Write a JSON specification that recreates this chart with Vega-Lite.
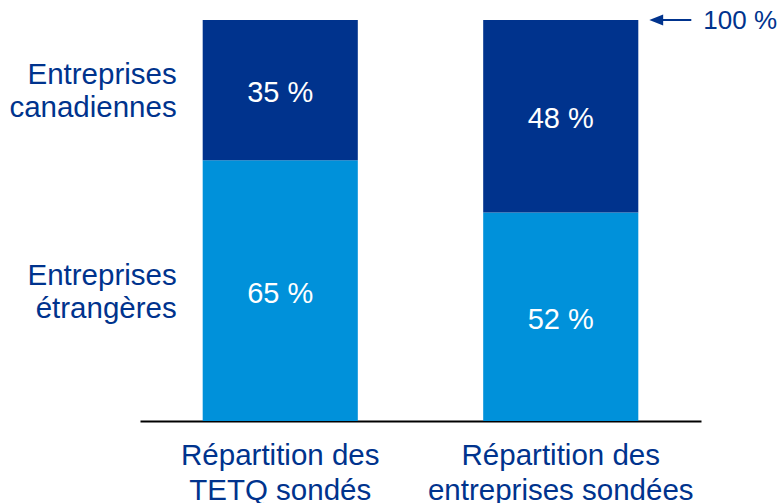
{
  "$schema": "https://vega.github.io/schema/vega-lite/v6.json",
  "autosize": "none",
  "width": 561,
  "height": 401,
  "padding": {"left": 140, "top": 20, "right": 77, "bottom": 82},
  "background": "white",
  "config": {
    "view": {"stroke": null},
    "font": "Liberation Sans"
  },
  "data": {
    "values": [
      {"cat": "Répartition des|TETQ sondés", "group": "Entreprises étrangères", "value": 65},
      {"cat": "Répartition des|TETQ sondés", "group": "Entreprises canadiennes", "value": 35},
      {"cat": "Répartition des|entreprises sondées", "group": "Entreprises étrangères", "value": 52},
      {"cat": "Répartition des|entreprises sondées", "group": "Entreprises canadiennes", "value": 48}
    ]
  },
  "transform": [
    {"stack": "value", "groupby": ["cat"], "as": ["v0", "v1"], "sort": [{"field": "group", "order": "descending"}]},
    {"calculate": "(datum.v0 + datum.v1) / 2", "as": "vmid"},
    {"calculate": "datum.value + ' %'", "as": "lbl"}
  ],
  "encoding": {
    "x": {
      "field": "cat",
      "type": "nominal",
      "sort": null,
      "scale": {"paddingInner": 0.447, "paddingOuter": 0.2235},
      "axis": {
        "title": null,
        "labelAngle": 0,
        "labelExpr": "split(datum.label, '|')",
        "labelFontSize": 29.5,
        "labelLineHeight": 35,
        "labelLimit": 0,
        "labelColor": "#00338D",
        "labelPadding": 20,
        "labelFont": "Liberation Sans",
        "ticks": false,
        "domainColor": "#000000",
        "domainWidth": 2
      }
    }
  },
  "layer": [
    {
      "mark": {"type": "bar"},
      "encoding": {
        "y": {"field": "v0", "type": "quantitative", "scale": {"domain": [0, 100]}, "axis": null},
        "y2": {"field": "v1"},
        "color": {
          "field": "group",
          "type": "nominal",
          "scale": {"domain": ["Entreprises canadiennes", "Entreprises étrangères"], "range": ["#00338D", "#0091DA"]},
          "legend": null
        }
      }
    },
    {
      "mark": {"type": "text", "color": "white", "fontSize": 29, "baseline": "middle", "align": "center", "dy": 3},
      "encoding": {
        "y": {"field": "vmid", "type": "quantitative"},
        "text": {"field": "lbl"}
      }
    },
    {
      "transform": [{"filter": "datum.cat == 'Répartition des|TETQ sondés'"}],
      "mark": {"type": "text", "color": "#00338D", "fontSize": 29.5, "baseline": "middle", "align": "right", "lineBreak": " ", "lineHeight": 33, "dx": -26, "dy": -15},
      "encoding": {
        "x": {"field": "cat", "type": "nominal", "sort": null, "bandPosition": 0},
        "y": {"field": "vmid", "type": "quantitative"},
        "text": {"field": "group"}
      }
    },
    {
      "transform": [{"filter": "datum.cat == 'Répartition des|entreprises sondées' && datum.group == 'Entreprises canadiennes'"}],
      "mark": {"type": "point", "filled": true, "color": "#00338D", "opacity": 1, "strokeWidth": 0, "size": 1764, "xOffset": 32,
        "shape": "M -1 0 L -0.34 -0.26 L -0.34 -0.05 L 1 -0.05 L 1 0.05 L -0.34 0.05 L -0.34 0.26 Z"},
      "encoding": {
        "x": {"field": "cat", "type": "nominal", "sort": null, "bandPosition": 1},
        "y": {"field": "v1", "type": "quantitative"}
      }
    },
    {
      "transform": [{"filter": "datum.cat == 'Répartition des|entreprises sondées' && datum.group == 'Entreprises canadiennes'"}],
      "mark": {"type": "text", "color": "#00338D", "fontSize": 26, "baseline": "middle", "align": "left", "dx": 65, "dy": 1},
      "encoding": {
        "x": {"field": "cat", "type": "nominal", "sort": null, "bandPosition": 1},
        "y": {"field": "v1", "type": "quantitative"},
        "text": {"value": "100 %"}
      }
    }
  ]
}
